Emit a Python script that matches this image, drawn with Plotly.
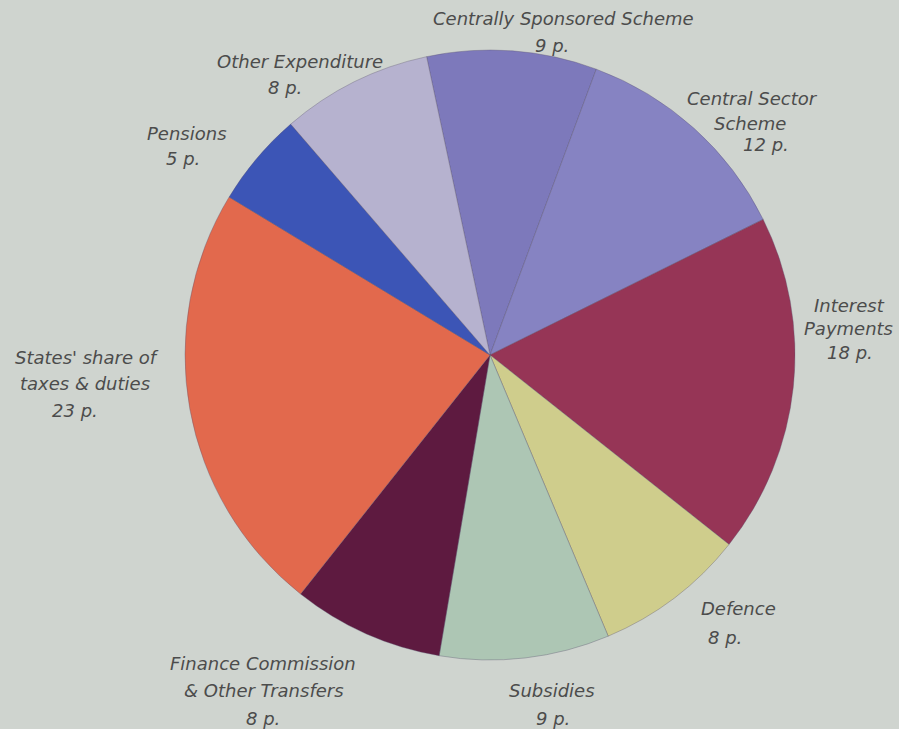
import plotly.graph_objects as go

categories = ["Centrally Sponsored Scheme", "Central Sector Scheme", "Interest Payments",
              "Defence", "Subsidies", "Finance Commission & Other Transfers",
              "States' share of taxes & duties", "Pensions", "Other Expenditure"]
values = [9, 12, 18, 8, 9, 8, 23, 5, 8]
colors = ["#7d79bb", "#8683c2", "#963556", "#cfcd8c", "#adc6b4", "#5e1a40",
          "#e2694d", "#3c55b6", "#b6b2cf"]
label_lines = [["Centrally Sponsored Scheme", "9 p."],
               ["Central Sector", "Scheme", "12 p."],
               ["Interest", "Payments", "18 p."],
               ["Defence", "8 p."],
               ["Subsidies", "9 p."],
               ["Finance Commission", "& Other Transfers", "8 p."],
               ["States' share of", "taxes & duties", "23 p."],
               ["Pensions", "5 p."],
               ["Other Expenditure", "8 p."]]
# pixel centres of each label line
label_xy = [[(563, 18), (552, 45)],
            [(752, 99), (750, 123), (766, 145)],
            [(849, 305), (848, 328), (850, 352)],
            [(738, 608), (725, 637)],
            [(552, 690), (553, 718)],
            [(263, 663), (264, 690), (263, 718)],
            [(87, 357), (85, 383), (75, 410)],
            [(187, 133), (183, 158)],
            [(300, 61), (285, 87)]]

W, H = 899, 729
fig = go.Figure(go.Pie(
    labels=categories, values=values, sort=False, direction="clockwise",
    rotation=-12, textinfo="none", hoverinfo="label+value",
    marker=dict(colors=colors, line=dict(color="rgba(90,80,110,0.35)", width=1)),
    domain=dict(x=[185 / W, 795 / W], y=[(H - 660) / H, (H - 50) / H]),
    showlegend=False,
))

for lines, pts in zip(label_lines, label_xy):
    for txt, (px, py) in zip(lines, pts):
        fig.add_annotation(x=px / W, y=1 - py / H, xref="paper", yref="paper",
                           text=txt, showarrow=False, xanchor="center", yanchor="middle",
                           font=dict(family="DejaVu Sans", size=18,
                                     color="#4c4c4c", style="italic"))

fig.update_layout(width=W, height=H, margin=dict(l=0, r=0, t=0, b=0),
                  paper_bgcolor="#cfd4cf", plot_bgcolor="#cfd4cf")
fig.write_html("out.html", config={"displayModeBar": False},
               post_script="document.body.style.margin='0';document.body.style.overflow='hidden';")
